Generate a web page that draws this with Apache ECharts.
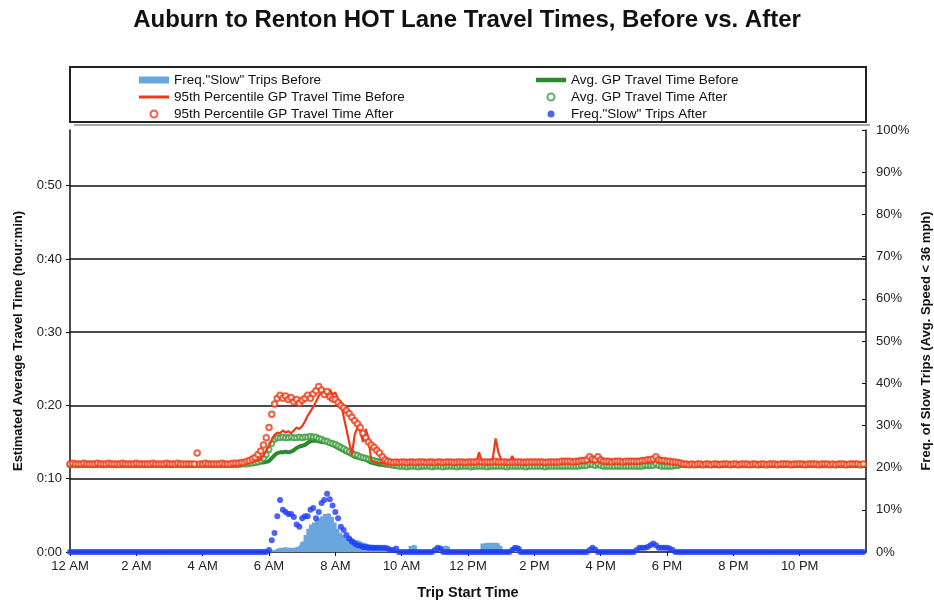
<!DOCTYPE html>
<html>
<head>
<meta charset="utf-8">
<script src="https://cdn.jsdelivr.net/npm/echarts/dist/echarts.min.js"></script>
<style>html,body{margin:0;padding:0;background:#fff}#c{width:934px;height:603px}</style>
</head>
<body>
<div id="c"></div>
<script>
// 5-minute time slots, 00:00 .. 23:55 (288 slots). Travel times in minutes, slow-trip frequency in %.
const SLOT_MINUTES = 5;

const xTickHours = ['12 AM','2 AM','4 AM','6 AM','8 AM','10 AM','12 PM','2 PM','4 PM','6 PM','8 PM','10 PM'];

const p95Before = [
12.0,12.0,12.1,12.0,12.0,12.0,12.1,12.0,12.0,12.0,12.0,12.1,
12.0,12.0,12.0,12.1,12.0,12.0,12.0,12.0,12.1,12.0,12.0,12.0,
12.0,12.1,12.0,12.0,12.0,12.0,12.0,12.1,12.0,12.0,12.0,12.0,
12.0,12.0,12.0,12.0,12.1,12.0,12.0,12.0,12.0,12.0,12.1,12.0,
12.0,12.0,12.0,12.0,12.0,12.1,12.0,12.0,12.0,12.1,12.0,12.0,
12.0,12.0,12.1,12.1,12.2,12.2,12.3,12.4,12.5,12.6,13.2,13.8,
14.5,15.3,16.0,16.3,16.2,16.6,16.3,16.5,16.2,16.6,17.0,16.8,
17.2,17.8,18.6,19.2,19.8,20.5,21.3,21.8,22.0,21.2,22.2,21.5,
21.8,20.8,20.5,18.5,16.8,15.0,13.3,16.0,17.0,16.5,15.0,16.8,
15.5,12.5,12.3,12.2,12.1,12.2,12.1,12.0,12.1,12.0,12.1,12.0,
12.1,12.2,12.1,12.3,12.2,12.1,12.2,12.2,12.1,12.2,12.1,12.1,
12.1,12.0,12.1,12.1,12.0,12.1,12.2,12.1,12.1,12.2,12.1,12.2,
12.2,12.2,12.3,12.2,13.6,12.3,12.2,12.2,12.3,12.8,15.5,13.6,
12.6,12.3,12.2,12.3,13.1,12.3,12.2,12.2,12.2,12.1,12.2,12.2,
12.2,12.2,12.1,12.2,12.2,12.2,12.3,12.2,12.2,12.2,12.3,12.2,
12.2,12.3,12.2,12.3,12.3,12.2,12.3,12.3,12.4,12.3,12.3,12.4,
12.3,12.3,12.2,12.3,12.3,12.3,12.2,12.3,12.3,12.3,12.4,12.3,
12.3,12.3,12.3,12.3,12.4,12.4,12.4,12.5,12.4,12.3,12.3,12.3,
12.3,12.2,12.2,12.2,12.1,12.0,11.9,11.9,11.9,11.9,11.9,11.9,
11.9,11.9,12.0,11.9,11.9,11.9,11.9,12.0,11.9,11.9,11.9,11.9,
11.9,11.9,11.9,11.9,12.0,11.9,11.9,11.9,11.9,11.9,12.0,11.9,
11.9,12.0,11.9,11.9,11.9,11.9,11.9,11.9,12.0,11.9,11.9,11.9,
11.9,11.9,11.9,12.0,11.9,11.9,11.9,11.9,11.9,12.0,11.9,11.9,
11.9,11.9,11.9,11.9,11.9,12.0,11.9,11.9,11.9,11.9,11.9,11.9
];

const p95After = [
12.0,12.1,12.0,12.0,12.0,12.1,12.0,12.0,12.0,12.0,12.1,12.0,
12.0,12.0,12.1,12.0,12.0,12.0,12.0,12.1,12.0,12.0,12.0,12.0,
12.1,12.0,12.0,12.0,12.0,12.0,12.1,12.0,12.0,12.0,12.0,12.1,
12.0,12.0,12.0,12.1,12.0,12.0,12.0,12.0,12.0,12.0,13.5,12.0,
12.0,12.1,12.0,12.0,12.0,12.0,12.0,12.1,12.0,12.0,12.0,12.1,
12.1,12.1,12.2,12.2,12.4,12.5,12.7,12.9,13.3,13.8,14.6,15.6,
17.0,18.8,20.2,21.0,21.4,21.0,21.3,20.8,21.1,20.5,20.8,20.3,
20.7,21.0,21.4,21.0,21.6,22.0,22.6,22.1,21.5,21.9,21.2,20.9,
20.8,20.4,20.0,19.7,19.3,18.9,18.4,17.9,17.5,17.0,16.2,15.6,
15.0,14.6,14.3,13.9,13.5,13.0,12.6,12.4,12.3,12.2,12.3,12.2,
12.3,12.3,12.2,12.3,12.3,12.2,12.3,12.3,12.3,12.2,12.3,12.3,
12.2,12.3,12.3,12.2,12.3,12.3,12.3,12.2,12.3,12.3,12.3,12.2,
12.3,12.3,12.3,12.3,12.4,12.3,12.3,12.3,12.3,12.3,12.4,12.3,
12.3,12.3,12.3,12.2,12.3,12.3,12.3,12.3,12.2,12.3,12.3,12.3,
12.3,12.3,12.3,12.3,12.2,12.3,12.3,12.3,12.3,12.3,12.4,12.4,
12.4,12.4,12.3,12.4,12.4,12.5,12.5,12.6,13.0,12.7,12.6,13.0,
12.6,12.4,12.4,12.4,12.3,12.4,12.4,12.4,12.3,12.4,12.4,12.4,
12.4,12.4,12.4,12.5,12.5,12.6,12.6,12.7,13.0,12.6,12.5,12.5,
12.4,12.4,12.3,12.3,12.2,12.1,12.0,12.0,11.9,12.0,11.9,12.0,
12.0,11.9,12.0,12.0,11.9,12.0,12.0,11.9,12.0,12.0,12.0,11.9,
12.0,12.0,11.9,12.0,12.0,12.0,11.9,12.0,12.0,11.9,12.0,12.0,
11.9,12.0,12.0,12.0,11.9,12.0,12.0,12.0,12.0,11.9,12.0,12.0,
12.0,12.0,11.9,12.0,12.0,12.0,12.0,11.9,12.0,12.0,12.0,11.9,
12.0,11.9,12.0,12.0,12.0,11.9,12.0,12.0,12.0,12.0,11.9,12.0
];

const avgBefore = [
11.9,11.9,11.9,11.9,11.9,11.9,11.9,11.9,11.9,11.9,11.9,11.9,
11.9,11.9,11.9,11.9,11.9,11.9,11.9,11.9,11.9,11.9,11.9,11.9,
11.9,11.9,11.9,11.9,11.9,11.9,11.9,11.9,11.9,11.9,11.9,11.9,
11.9,11.9,11.9,11.9,11.9,11.9,11.9,11.9,11.9,11.9,11.9,11.9,
11.9,11.9,11.9,11.9,11.9,11.9,11.9,11.9,11.9,11.9,11.9,11.9,
11.9,11.9,11.9,12.0,12.0,12.0,12.0,12.1,12.1,12.2,12.2,12.3,
12.4,12.8,13.2,13.5,13.6,13.6,13.7,13.6,13.7,13.9,14.2,14.4,
14.5,14.6,14.9,15.1,15.2,15.2,15.1,15.0,15.0,14.9,14.8,14.6,
14.4,14.2,14.0,13.8,13.6,13.4,13.2,13.0,12.9,12.8,12.7,12.6,
12.4,12.2,12.1,12.0,11.9,11.9,11.8,11.8,11.8,11.8,11.8,11.8,
11.8,11.8,11.9,11.8,11.8,11.8,11.9,11.8,11.8,11.8,11.8,11.9,
11.8,11.8,11.8,11.8,11.9,11.8,11.8,11.8,11.8,11.9,11.8,11.8,
11.8,11.9,11.8,11.8,11.8,11.8,11.8,11.9,11.8,11.8,11.9,11.8,
11.8,11.8,11.8,11.9,11.8,11.8,11.8,11.8,11.9,11.8,11.8,11.8,
11.9,11.8,11.8,11.8,11.8,11.9,11.8,11.8,11.8,11.8,11.9,11.8,
11.8,11.8,11.9,11.8,11.8,11.8,11.8,11.9,11.9,11.8,11.8,11.9,
11.8,11.8,11.8,11.8,11.9,11.8,11.8,11.8,11.8,11.9,11.8,11.8,
11.9,11.8,11.8,11.9,11.8,11.8,11.9,11.8,11.9,11.8,11.8,11.8,
11.8,11.8,11.8,11.8,11.8,11.9,11.9,11.9,11.9,11.9,11.9,11.9,
11.9,11.9,11.9,11.9,11.9,11.9,11.9,11.9,11.9,11.9,11.9,11.9,
11.9,11.9,11.9,11.9,11.9,11.9,11.9,11.9,11.9,11.9,11.9,11.9,
11.9,11.9,11.9,11.9,11.9,11.9,11.9,11.9,11.9,11.9,11.9,11.9,
11.9,11.9,11.9,11.9,11.9,11.9,11.9,11.9,11.9,11.9,11.9,11.9,
11.9,11.9,11.9,11.9,11.9,11.9,11.9,11.9,11.9,11.9,11.9,11.9
];

const avgAfter = [
11.9,11.9,11.9,11.9,11.9,11.9,11.9,11.9,11.9,11.9,11.9,11.9,
11.9,11.9,11.9,11.9,11.9,11.9,11.9,11.9,11.9,11.9,11.9,11.9,
11.9,11.9,11.9,11.9,11.9,11.9,11.9,11.9,11.9,11.9,11.9,11.9,
11.9,11.9,11.9,11.9,11.9,11.9,11.9,11.9,11.9,11.9,11.9,11.9,
11.9,11.9,11.9,11.9,11.9,11.9,11.9,11.9,11.9,11.9,11.9,11.9,
11.9,11.9,12.0,12.0,12.0,12.1,12.1,12.2,12.3,12.5,12.8,13.3,
14.0,14.8,15.4,15.6,15.6,15.7,15.6,15.6,15.7,15.6,15.6,15.7,
15.6,15.7,15.7,15.8,15.7,15.7,15.5,15.4,15.2,15.1,14.9,14.8,
14.7,14.5,14.3,14.1,13.9,13.7,13.5,13.3,13.2,13.0,12.9,12.8,
12.7,12.6,12.5,12.4,12.3,12.2,12.1,12.0,11.9,11.8,11.8,11.7,
11.7,11.7,11.6,11.7,11.7,11.7,11.6,11.7,11.7,11.7,11.7,11.6,
11.7,11.7,11.7,11.6,11.7,11.7,11.7,11.7,11.6,11.7,11.7,11.7,
11.7,11.6,11.7,11.7,11.7,11.7,11.7,11.6,11.7,11.7,11.7,11.7,
11.7,11.7,11.6,11.7,11.7,11.7,11.7,11.7,11.7,11.6,11.7,11.7,
11.7,11.7,11.7,11.7,11.6,11.7,11.7,11.7,11.7,11.7,11.7,11.7,
11.7,11.7,11.7,11.7,11.7,11.8,11.8,11.8,12.0,11.9,11.8,12.0,
11.8,11.7,11.7,11.7,11.7,11.7,11.7,11.7,11.7,11.7,11.7,11.7,
11.7,11.7,11.7,11.7,11.8,11.8,11.8,11.8,12.0,11.8,11.7,11.7,
11.7,11.7,11.7,11.8,11.8,11.9,11.9,11.9,11.9,11.9,11.9,11.9,
11.9,11.9,11.9,11.9,11.9,11.9,11.9,11.9,11.9,11.9,11.9,11.9,
11.9,11.9,11.9,11.9,11.9,11.9,11.9,11.9,11.9,11.9,11.9,11.9,
11.9,11.9,11.9,11.9,11.9,11.9,11.9,11.9,11.9,11.9,11.9,11.9,
11.9,11.9,11.9,11.9,11.9,11.9,11.9,11.9,11.9,11.9,11.9,11.9,
11.9,11.9,11.9,11.9,11.9,11.9,11.9,11.9,11.9,11.9,11.9,11.9
];

const slowBefore = [
0,0,0,0,0,0,0,0,0,0,0,0,
0,0,0,0,0,0,0,0,0,0,0,0,
0,0,0,0,0,0,0,0,0,0,0,0,
0,0,0,0,0,0,0,0,0,0,0,0,
0,0,0,0,0,0,0,0,0,0,0,0,
0,0,0,0,0,0,0,0,0,0,0,0,
0.3,0.5,0.5,0.8,1.0,1.0,1.2,1.0,1.0,1.0,1.2,1.5,
2.5,4.0,5.5,6.5,7.0,7.5,8.0,8.5,9.0,9.2,9.0,8.3,
7.0,5.5,4.5,4.0,3.5,3.5,3.2,2.8,2.8,2.4,2.2,2.0,
1.8,1.7,1.6,1.4,1.2,1.0,1.0,0.8,0.5,0,0,0,
0,0,0,1.5,1.7,1.5,0,0,0,0,0,0,
0,0,1.2,1.5,1.5,1.2,0,0,0,0,0,0,
0,0,0,0,0,2.0,2.2,2.2,2.2,2.2,2.2,2.0,
1.5,0,0,0,1.2,1.5,1.5,1.2,0,0,0,0,
0,0,0,0,0,0,0,0,0,0,0,0,
0,0,0,0,0,0,0,0,0,0,0,0,
0,0,0,0,0,0,0,0,0,0,0,0,
0,0,0,0,0,0,0,0,0,0,0,0,
0,0,0,0,0,0,0,0,0,0,0,0,
0,0,0,0,0,0,0,0,0,0,0,0,
0,0,0,0,0,0,0,0,0,0,0,0,
0,0,0,0,0,0,0,0,0,0,0,0,
0,0,0,0,0,0,0,0,0,0,0,0,
0,0,0,0,0,0,0,0,0,0,0,0
];

const slowAfter = [
0,0,0,0,0,0,0,0,0,0,0,0,
0,0,0,0,0,0,0,0,0,0,0,0,
0,0,0,0,0,0,0,0,0,0,0,0,
0,0,0,0,0,0,0,0,0,0,0,0,
0,0,0,0,0,0,0,0,0,0,0,0,
0,0,0,0,0,0,0,0,0,0,0,0,
0.5,2.8,4.5,8.5,12.3,10.0,9.5,9.0,9.0,8.3,6.5,6.0,
8.0,8.5,8.5,10.0,10.4,8.0,9.5,11.6,12.3,13.8,12.5,11.0,
9.5,8.0,6.0,5.2,4.0,3.2,2.5,2.0,1.6,1.5,1.2,1.2,
1.0,1.0,1.0,1.0,1.0,1.0,1.0,0.8,0.5,0.5,0.8,0,
0,0,0,0,0,0,0,0,0,0,0,0,
0.5,1.0,0.8,0,0,0,0,0,0,0,0,0,
0,0,0,0,0,0,0,0,0,0,0,0,
0,0,0,0,0.5,1.0,0.8,0,0,0,0,0,
0,0,0,0,0,0,0,0,0,0,0,0,
0,0,0,0,0,0,0,0,0.5,1.0,0.6,0,
0,0,0,0,0,0,0,0,0,0,0,0,
0,0.5,1.0,1.0,1.0,1.2,1.6,2.0,1.6,1.0,1.0,1.0,
1.0,0.8,0.5,0,0,0,0,0,0,0,0,0,
0,0,0,0,0,0,0,0,0,0,0,0,
0,0,0,0,0,0,0,0,0,0,0,0,
0,0,0,0,0,0,0,0,0,0,0,0,
0,0,0,0,0,0,0,0,0,0,0,0,
0,0,0,0,0,0,0,0,0,0,0,0
];

const NAMES = {
  slowBefore: 'Freq."Slow" Trips Before',
  p95Before: '95th Percentile GP Travel Time Before',
  p95After: '95th Percentile GP Travel Time After',
  avgBefore: 'Avg. GP Travel Time Before',
  avgAfter: 'Avg. GP Travel Time After',
  slowAfter: 'Freq."Slow" Trips After'
};

const RED = '#ee3a17', GREEN = '#2b8a2b', GREEN2 = '#3c9c3c', BLUE = '#1e3cf5', LBLUE = '#6aa6de';
const FONT = '"Liberation Sans", Arial, Helvetica, sans-serif';

const pair = arr => arr.map((v, i) => [i * SLOT_MINUTES, v]);

const chart = echarts.init(document.getElementById('c'), null, {renderer: 'canvas'});

const legendBase = {
  orient: 'vertical', top: 68, itemGap: 3, itemWidth: 30, itemHeight: 7,
  textStyle: {fontSize: 13.5, color: '#111', fontFamily: FONT},
  selectedMode: false
};

chart.setOption({
  animation: false,
  backgroundColor: '#fff',
  title: {
    text: 'Auburn to Renton HOT Lane Travel Times, Before vs. After',
    left: 'center', top: 3,
    textStyle: {fontSize: 24, fontWeight: 'bold', color: '#111', fontFamily: FONT}
  },
  legend: [
    Object.assign({}, legendBase, {left: 134, data: [
      {name: NAMES.slowBefore, icon: 'rect'},
      {name: NAMES.p95Before, icon: 'path://M0,0h30v3h-30z'},
      {name: NAMES.p95After, icon: 'emptyCircle'}
    ]}),
    Object.assign({}, legendBase, {left: 531, data: [
      {name: NAMES.avgBefore, icon: 'path://M0,0h30v4.5h-30z'},
      {name: NAMES.avgAfter, icon: 'emptyCircle'},
      {name: NAMES.slowAfter, icon: 'circle'}
    ]})
  ],
  graphic: [
    {type: 'line', shape: {x1: 74, y1: 125, x2: 870, y2: 125}, style: {stroke: '#aaa', lineWidth: 2}, silent: true},
    {type: 'rect', shape: {x: 70, y: 67, width: 796, height: 55}, style: {fill: 'none', stroke: '#222', lineWidth: 2}, silent: true}
  ],
  grid: {left: 70, right: 68, top: 130, bottom: 51, containLabel: false, outerBoundsMode: 'none'},
  xAxis: {
    type: 'value', min: 0, max: 1440, interval: 120,
    name: 'Trip Start Time', nameLocation: 'middle', nameGap: 33,
    nameTextStyle: {fontSize: 14.5, fontWeight: 'bold', color: '#111', fontFamily: FONT},
    axisLine: {show: true, onZero: false, lineStyle: {color: '#111', width: 1.5}},
    axisTick: {show: true, length: 4, lineStyle: {color: '#111'}},
    axisLabel: {
      fontSize: 13, color: '#222', fontFamily: FONT, margin: 8, showMaxLabel: false,
      formatter: v => xTickHours[Math.round(v / 120)] || ''
    },
    splitLine: {show: false}
  },
  yAxis: [
    {
      type: 'value', min: 0, max: 57.6, interval: 10, position: 'left',
      name: 'Estimated Average Travel Time (hour:min)', nameLocation: 'middle', nameGap: 45, nameRotate: 90,
      nameTextStyle: {fontSize: 13, fontWeight: 'bold', color: '#111', fontFamily: FONT},
      axisLine: {show: true, lineStyle: {color: '#111', width: 1.5}},
      axisTick: {show: true, length: 4, lineStyle: {color: '#111'}},
      axisLabel: {
        fontSize: 13, color: '#222', fontFamily: FONT, margin: 8, showMaxLabel: false,
        formatter: v => '0:' + String(Math.round(v)).padStart(2, '0')
      },
      splitLine: {show: true, showMinLine: false, showMaxLine: false, lineStyle: {color: '#111', width: 1.5}}
    },
    {
      type: 'value', min: 0, max: 100, interval: 10, position: 'right',
      name: 'Freq. of Slow Trips (Avg. Speed < 36 mph)', nameLocation: 'middle', nameGap: 50, nameRotate: 90,
      nameTextStyle: {fontSize: 13, fontWeight: 'bold', color: '#111', fontFamily: FONT},
      axisLine: {show: true, lineStyle: {color: '#111', width: 1.5}},
      axisTick: {show: true, inside: true, length: 4, lineStyle: {color: '#111'}},
      axisLabel: {fontSize: 13, color: '#222', fontFamily: FONT, margin: 10, formatter: '{value}%'},
      splitLine: {show: false}
    }
  ],
  series: [
    {
      name: NAMES.slowBefore, type: 'line', yAxisIndex: 1, step: 'middle', symbol: 'none',
      color: LBLUE, lineStyle: {width: 0}, areaStyle: {color: LBLUE, opacity: 1},
      data: pair(slowBefore), z: 1
    },
    {
      name: NAMES.avgBefore, type: 'line', symbol: 'none', color: GREEN,
      lineStyle: {width: 4, color: GREEN}, data: pair(avgBefore), z: 2
    },
    {
      name: NAMES.avgAfter, type: 'scatter', symbol: 'emptyCircle', symbolSize: 5, color: GREEN2,
      itemStyle: {color: GREEN2, borderColor: GREEN2, borderWidth: 1.2}, data: pair(avgAfter), z: 3
    },
    {
      name: NAMES.p95Before, type: 'line', symbol: 'none', color: RED,
      lineStyle: {width: 2.2, color: RED}, data: pair(p95Before), z: 4
    },
    {
      name: NAMES.p95After, type: 'scatter', symbol: 'emptyCircle', symbolSize: 5.5, color: RED,
      itemStyle: {color: RED, borderColor: RED, borderWidth: 1.2}, data: pair(p95After), z: 5
    },
    {
      name: NAMES.slowAfter, type: 'scatter', yAxisIndex: 1, symbol: 'circle', symbolSize: 6, color: BLUE,
      itemStyle: {color: BLUE}, data: pair(slowAfter), z: 6
    }
  ]
});
</script>
</body>
</html>
